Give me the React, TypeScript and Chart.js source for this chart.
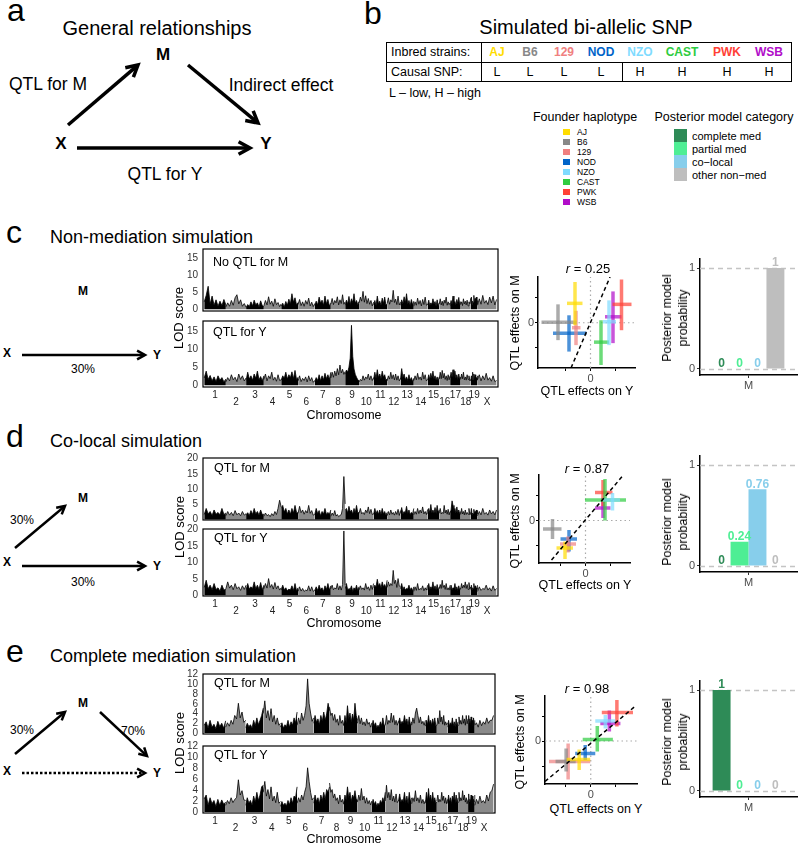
import React, { useEffect, useRef } from 'react';
import { Chart, registerables } from 'chart.js';
Chart.register(...registerables);

const FONT = '"Liberation Sans", Arial, Helvetica, sans-serif';
Chart.defaults.font.family = FONT;

// ---------------- categories ----------------
const strains = ['AJ', 'B6', '129', 'NOD', 'NZO', 'CAST', 'PWK', 'WSB'];
const strainColors = ['#FFDC00', '#888888', '#F08080', '#0064C9', '#7FDBFF', '#2ECC40', '#FF4136', '#B10DC9'];
const causalSNP = ['L', 'L', 'L', 'L', 'H', 'H', 'H', 'H'];
const modelCategories = ['complete med', 'partial med', 'co\u2212local', 'other non\u2212med'];
const modelColors = ['#2E8B57', '#4EEE94', '#87CEEB', '#BEBEBE'];
const chromosomes = ['1', '2', '3', '4', '5', '6', '7', '8', '9', '10', '11', '12', '13', '14', '15', '16', '17', '18', '19', 'X'];
const chrLengthsMb = [195, 182, 160, 156, 152, 150, 145, 129, 125, 131, 122, 120, 120, 125, 104, 98, 95, 91, 61, 171];

// ---------------- LOD scans (one row per chromosome) ----------------
const lodNonMedM = [
  [2.2, 4.1, 6.8, 1.5, 3.9, 1.2, 2.8, 0.9, 2.4, 1.1, 2.9, 1.3],
  [0.7, 1.9, 0.9, 2.6, 1.2, 3.4, 4.3, 1.6, 2.8, 0.9, 1.7, 0.6],
  [0.5, 1.4, 0.8, 2.2, 1.0, 2.7, 1.3, 1.9, 0.7, 2.5, 1.1, 0.8],
  [1.0, 2.6, 1.3, 3.7, 1.5, 2.4, 0.9, 3.1, 1.4, 2.0, 0.8, 1.6],
  [0.9, 1.8, 0.7, 2.3, 1.2, 3.0, 1.6, 4.6, 2.1, 3.4, 1.3, 2.0],
  [1.4, 2.9, 1.1, 2.2, 0.9, 2.6, 1.5, 3.3, 1.0, 2.1, 0.8, 1.7],
  [1.1, 2.4, 1.3, 3.6, 1.8, 2.7, 1.2, 3.9, 1.6, 2.9, 1.0, 1.8],
  [1.6, 3.2, 1.4, 2.6, 1.9, 3.7, 1.3, 2.8, 1.7, 4.3, 1.5, 2.2],
  [1.2, 2.7, 1.6, 3.8, 1.4, 3.1, 2.0, 4.6, 1.8, 2.6, 1.3, 2.3],
  [1.9, 3.6, 2.4, 5.3, 2.1, 4.0, 1.7, 3.2, 1.5, 2.6, 1.0, 2.1],
  [1.3, 2.6, 1.1, 3.9, 1.6, 2.4, 1.2, 3.3, 1.7, 3.6, 1.2, 1.6],
  [1.7, 3.4, 1.5, 2.8, 2.2, 5.6, 2.0, 3.0, 1.4, 3.9, 1.3, 2.1],
  [1.2, 2.8, 1.6, 3.7, 1.9, 4.6, 1.5, 2.6, 1.1, 2.9, 1.3, 2.4],
  [0.9, 2.2, 1.2, 3.3, 1.5, 2.6, 1.0, 2.9, 1.4, 3.6, 1.2, 1.5],
  [1.3, 2.7, 1.1, 1.9, 1.4, 3.1, 1.6, 2.3, 0.9, 2.8, 1.0, 1.9],
  [1.6, 3.1, 1.3, 2.4, 1.1, 2.7, 1.8, 3.6, 1.2, 2.2, 1.4, 1.9],
  [1.0, 2.6, 1.4, 3.9, 1.7, 2.3, 1.2, 2.9, 1.6, 3.5, 1.3, 2.3],
  [1.5, 2.2, 1.1, 3.1, 1.6, 2.4, 1.3, 2.7, 1.0, 2.2, 1.6, 3.3],
  [1.8, 3.6, 1.5, 2.4, 1.9, 4.1, 1.7, 3.2, 1.4, 3.6, 1.5, 2.6],
  [1.2, 3.1, 1.5, 4.1, 1.8, 2.6, 1.4, 3.6, 1.9, 3.9, 1.3, 2.9],
];
const lodNonMedY = [
  [2.0, 3.9, 1.6, 2.7, 1.2, 2.3, 1.0, 2.6, 1.4, 2.1, 0.9, 1.7],
  [0.9, 2.1, 1.2, 2.9, 1.5, 2.2, 1.0, 3.1, 1.6, 2.6, 1.2, 2.0],
  [1.3, 3.6, 1.7, 2.6, 1.4, 3.1, 1.9, 3.9, 1.5, 2.4, 1.2, 2.6],
  [1.6, 3.1, 1.2, 2.6, 1.8, 3.6, 1.4, 2.2, 1.1, 2.9, 1.3, 1.5],
  [1.4, 2.6, 1.9, 3.6, 1.7, 2.9, 2.1, 3.7, 1.8, 4.1, 1.6, 2.2],
  [1.2, 2.6, 1.0, 1.9, 1.3, 2.3, 0.9, 2.6, 1.2, 2.1, 0.8, 1.3],
  [1.0, 2.1, 1.3, 2.9, 1.2, 2.6, 1.5, 3.3, 1.8, 2.9, 1.6, 3.6],
  [2.0, 3.6, 2.2, 3.9, 2.6, 4.6, 2.9, 5.6, 3.4, 4.4, 3.0, 3.8],
  [3.0, 4.2, 3.6, 5.0, 7.5, 16.6, 8.0, 4.5, 3.0, 2.2, 1.5, 1.2],
  [0.9, 1.6, 1.2, 2.6, 1.4, 2.3, 1.8, 3.1, 1.5, 2.6, 1.3, 2.1],
  [1.6, 3.6, 1.9, 4.3, 2.1, 3.1, 1.8, 3.9, 2.2, 2.9, 1.4, 1.8],
  [1.2, 2.6, 1.7, 3.6, 1.8, 2.9, 1.5, 3.1, 1.4, 2.6, 1.2, 1.9],
  [1.6, 4.6, 2.1, 3.1, 1.5, 2.3, 1.3, 2.9, 1.4, 2.1, 1.0, 1.9],
  [1.3, 2.6, 1.5, 3.3, 1.6, 2.3, 1.4, 3.6, 1.7, 2.9, 1.2, 1.6],
  [1.5, 2.9, 1.6, 3.3, 1.9, 3.9, 1.7, 2.6, 1.4, 2.3, 1.2, 2.3],
  [1.7, 3.6, 1.8, 4.1, 2.0, 3.3, 1.6, 2.6, 1.3, 2.9, 1.5, 2.6],
  [2.0, 3.6, 2.2, 4.3, 2.1, 3.9, 1.9, 2.9, 1.6, 3.1, 1.7, 2.3],
  [1.6, 3.1, 1.8, 3.6, 1.5, 2.3, 1.4, 2.9, 1.6, 2.6, 1.2, 1.6],
  [1.2, 2.6, 1.5, 3.6, 1.6, 3.1, 1.5, 2.9, 1.2, 2.1, 1.4, 2.6],
  [1.6, 2.9, 1.2, 2.6, 1.5, 3.3, 1.4, 2.1, 1.1, 2.6, 1.0, 1.3],
];
const lodCoLocalM = [
  [1.6, 3.6, 1.8, 2.6, 1.3, 3.1, 1.7, 2.3, 1.5, 3.6, 1.6, 2.1],
  [1.2, 2.6, 1.4, 2.3, 1.2, 2.9, 1.5, 2.1, 1.2, 2.6, 1.4, 1.9],
  [1.5, 2.2, 1.3, 2.9, 1.6, 3.6, 1.8, 2.6, 1.4, 3.1, 1.6, 1.7],
  [1.0, 2.1, 1.2, 1.6, 0.9, 1.9, 1.2, 2.6, 1.6, 3.6, 6.3, 4.1],
  [3.6, 4.6, 2.4, 3.6, 1.8, 3.1, 1.7, 3.6, 2.1, 4.6, 2.3, 2.1],
  [2.0, 4.3, 2.2, 3.1, 1.7, 2.9, 2.1, 4.6, 2.0, 2.9, 1.4, 1.6],
  [1.6, 3.6, 1.9, 2.9, 1.2, 2.6, 1.8, 3.6, 1.6, 2.3, 1.7, 3.1],
  [1.0, 2.1, 1.3, 2.9, 1.1, 1.6, 0.9, 1.3, 1.6, 3.6, 14.1, 5.1],
  [3.0, 3.6, 2.1, 4.3, 2.4, 3.1, 1.7, 3.6, 2.2, 4.6, 2.1, 2.3],
  [2.0, 3.6, 1.8, 2.3, 1.6, 3.1, 2.2, 4.1, 1.9, 3.3, 1.6, 1.9],
  [1.6, 3.6, 1.9, 2.9, 1.7, 3.1, 1.6, 3.6, 1.8, 2.6, 1.4, 2.3],
  [1.2, 2.6, 1.5, 3.1, 1.7, 2.3, 1.4, 2.6, 1.6, 3.3, 1.3, 2.9],
  [2.0, 3.9, 1.8, 2.6, 2.1, 4.3, 1.9, 3.1, 1.6, 2.3, 1.8, 3.6],
  [1.5, 2.6, 1.7, 3.6, 1.9, 3.1, 2.1, 4.1, 1.8, 2.6, 1.6, 3.3],
  [1.8, 3.6, 2.2, 4.9, 2.1, 3.1, 2.0, 3.9, 1.9, 4.6, 2.2, 3.1],
  [2.0, 3.6, 1.8, 2.3, 1.9, 4.6, 2.1, 3.1, 1.7, 3.3, 1.5, 2.6],
  [2.2, 3.1, 6.1, 4.6, 2.4, 3.6, 2.0, 4.1, 2.1, 3.1, 1.8, 2.6],
  [1.6, 3.6, 1.8, 2.6, 1.5, 3.1, 1.6, 2.3, 1.7, 3.6, 1.5, 2.3],
  [2.0, 3.6, 1.7, 2.1, 1.8, 3.3, 1.9, 2.6, 1.5, 3.1, 1.7, 2.9],
  [1.2, 2.6, 1.5, 3.6, 1.7, 2.3, 1.4, 3.1, 1.8, 2.6, 1.5, 3.1],
];
const lodCoLocalY = [
  [2.4, 4.6, 2.0, 3.1, 1.7, 3.6, 1.8, 2.3, 1.3, 3.1, 1.6, 1.9],
  [2.0, 4.1, 2.2, 3.1, 1.7, 3.6, 2.0, 2.6, 1.5, 2.9, 1.8, 3.1],
  [1.6, 3.6, 1.9, 2.6, 2.1, 4.1, 2.0, 3.1, 1.8, 3.9, 1.7, 3.1],
  [2.0, 3.6, 2.2, 5.1, 2.4, 3.3, 1.9, 3.9, 2.0, 2.9, 1.6, 2.3],
  [1.6, 3.1, 1.7, 2.3, 1.4, 1.9, 1.6, 2.9, 1.5, 3.6, 1.4, 2.3],
  [1.2, 2.6, 1.3, 2.1, 1.2, 1.6, 1.4, 2.9, 1.3, 2.6, 1.2, 1.6],
  [1.4, 2.6, 1.5, 3.1, 1.7, 2.3, 1.2, 2.9, 1.8, 3.6, 1.6, 2.9],
  [2.0, 3.1, 1.7, 2.3, 1.9, 3.6, 1.7, 2.9, 1.6, 3.3, 19.6, 3.1],
  [2.0, 3.6, 1.6, 2.1, 1.8, 2.9, 1.2, 2.3, 1.7, 3.1, 1.5, 2.6],
  [1.6, 2.9, 1.8, 2.3, 1.6, 3.6, 1.9, 2.6, 1.5, 3.1, 1.8, 3.6],
  [2.4, 3.1, 2.6, 4.9, 2.8, 3.6, 2.2, 4.1, 2.6, 3.3, 2.2, 4.6],
  [2.4, 4.1, 2.8, 3.6, 3.0, 7.6, 3.6, 4.6, 2.4, 5.1, 2.8, 2.6],
  [2.0, 3.6, 1.8, 2.6, 1.6, 2.1, 1.9, 3.1, 1.7, 2.3, 1.4, 2.6],
  [1.2, 2.6, 1.5, 3.6, 1.6, 2.1, 1.8, 2.9, 1.4, 2.3, 1.6, 3.1],
  [1.6, 3.6, 1.8, 2.6, 2.1, 4.1, 1.9, 2.9, 1.6, 3.3, 1.5, 2.6],
  [2.0, 3.3, 2.1, 4.6, 2.4, 3.1, 1.8, 3.6, 1.7, 2.3, 1.6, 3.1],
  [1.6, 3.1, 1.7, 2.3, 1.9, 3.6, 1.6, 2.6, 1.4, 2.9, 1.6, 2.3],
  [2.0, 3.6, 2.2, 3.1, 2.4, 4.1, 2.1, 3.3, 1.8, 3.9, 1.9, 2.6],
  [1.6, 3.1, 1.8, 2.3, 2.0, 3.6, 1.7, 2.9, 1.6, 2.3, 1.8, 3.1],
  [1.2, 2.6, 1.5, 2.1, 1.8, 3.1, 1.6, 2.3, 1.3, 2.9, 1.5, 2.1],
];
const lodCompleteM = [
  [1.6, 2.3, 1.0, 2.6, 1.2, 1.8, 0.9, 2.4, 1.3, 2.0, 1.0, 2.5],
  [1.2, 2.1, 1.4, 2.6, 1.8, 3.6, 2.9, 6.1, 3.1, 4.3, 2.2, 2.6],
  [1.1, 2.0, 1.3, 1.7, 1.0, 2.6, 1.5, 3.1, 1.7, 2.6, 3.6, 5.1],
  [4.0, 6.6, 3.1, 4.6, 2.6, 5.0, 2.3, 3.6, 1.8, 3.1, 1.6, 2.0],
  [1.2, 2.1, 1.0, 1.7, 1.3, 2.6, 1.2, 2.3, 1.6, 3.1, 2.1, 4.3],
  [1.6, 3.1, 1.9, 4.1, 2.6, 3.6, 5.6, 11.1, 6.1, 4.1, 2.4, 3.1],
  [2.0, 3.6, 2.2, 2.9, 1.7, 3.6, 2.4, 4.3, 2.6, 3.9, 6.1, 4.6],
  [5.3, 3.6, 4.1, 2.6, 3.8, 2.2, 2.9, 1.6, 3.6, 2.0, 2.6, 1.5],
  [1.6, 3.6, 2.1, 5.6, 2.9, 4.1, 2.2, 3.9, 2.6, 6.1, 3.6, 2.6],
  [2.0, 3.6, 1.9, 3.1, 1.7, 2.3, 1.5, 2.9, 1.8, 2.2, 1.2, 2.1],
  [1.2, 2.6, 1.5, 2.1, 1.1, 1.6, 1.3, 2.3, 1.5, 3.1, 1.6, 1.6],
  [1.6, 3.6, 1.8, 2.6, 2.1, 4.1, 2.2, 3.6, 1.7, 2.6, 1.6, 2.5],
  [2.0, 3.1, 1.8, 2.4, 2.0, 3.6, 2.1, 2.9, 1.6, 3.3, 1.5, 2.3],
  [1.6, 3.1, 2.0, 4.1, 5.1, 3.6, 2.1, 3.3, 1.9, 2.4, 1.6, 2.6],
  [1.4, 2.6, 1.7, 3.6, 1.9, 2.6, 1.6, 2.9, 1.8, 3.1, 1.5, 1.6],
  [1.6, 3.1, 1.9, 4.6, 2.3, 3.3, 1.8, 3.6, 1.6, 2.3, 1.7, 2.1],
  [1.2, 2.6, 1.4, 2.1, 1.6, 3.1, 1.5, 2.3, 1.2, 2.9, 1.4, 2.3],
  [1.6, 3.3, 1.9, 2.6, 1.8, 3.6, 2.0, 2.9, 1.6, 3.6, 1.9, 2.9],
  [2.0, 3.6, 2.2, 2.9, 1.7, 3.3, 2.0, 2.6, 1.5, 3.1, 1.8, 2.6],
  [1.6, 2.1, 1.2, 2.6, 1.5, 2.3, 1.8, 3.1, 2.0, 2.6, 2.6, 3.6],
];
const lodCompleteY = [
  [2.4, 3.1, 1.2, 2.6, 1.5, 2.1, 1.0, 2.3, 1.2, 2.2, 1.4, 1.8],
  [1.2, 2.1, 1.5, 2.6, 1.7, 2.3, 2.6, 5.9, 3.1, 3.9, 2.2, 2.1],
  [1.2, 2.6, 1.6, 2.1, 1.2, 2.9, 1.8, 3.6, 2.1, 3.1, 4.6, 4.9],
  [3.6, 5.6, 2.9, 4.1, 2.4, 4.6, 2.0, 2.9, 1.7, 3.6, 1.6, 1.9],
  [1.0, 1.9, 1.2, 1.6, 1.1, 2.1, 1.3, 2.6, 1.6, 2.9, 2.6, 4.6],
  [1.6, 2.6, 1.8, 3.1, 2.2, 3.6, 4.6, 8.1, 5.6, 3.6, 2.2, 2.6],
  [1.6, 3.1, 1.9, 2.6, 1.5, 3.1, 2.1, 3.6, 2.3, 4.1, 3.6, 4.6],
  [5.3, 3.6, 4.1, 2.6, 3.3, 2.1, 2.6, 1.5, 3.1, 1.8, 2.3, 1.4],
  [1.6, 3.1, 2.2, 4.6, 2.6, 3.6, 1.9, 3.1, 2.6, 3.9, 2.4, 2.1],
  [1.8, 3.1, 2.1, 4.3, 2.2, 2.9, 1.6, 2.6, 1.5, 2.1, 1.3, 2.0],
  [1.2, 2.3, 1.4, 1.9, 1.0, 1.6, 1.2, 2.1, 1.6, 2.6, 1.8, 3.6],
  [2.0, 4.9, 2.6, 3.6, 2.2, 4.1, 2.0, 2.9, 1.8, 3.3, 1.7, 2.1],
  [2.0, 3.3, 1.8, 2.3, 1.9, 3.6, 1.7, 2.9, 1.5, 3.6, 1.8, 2.6],
  [1.5, 2.6, 1.9, 3.9, 2.0, 2.6, 1.7, 3.1, 1.6, 2.3, 1.5, 2.1],
  [1.6, 3.6, 2.0, 4.3, 2.2, 3.1, 1.8, 3.6, 1.9, 2.6, 1.6, 1.9],
  [2.0, 3.1, 1.8, 2.3, 1.9, 3.6, 2.1, 2.9, 1.6, 2.6, 1.5, 2.3],
  [1.6, 3.1, 1.8, 2.6, 1.5, 2.9, 2.2, 3.6, 1.7, 3.1, 1.6, 2.6],
  [1.8, 3.6, 2.0, 2.6, 2.1, 3.9, 2.2, 3.1, 1.8, 2.6, 1.5, 2.3],
  [2.0, 3.3, 1.8, 2.3, 1.9, 3.1, 1.7, 2.9, 1.5, 2.3, 1.9, 3.1],
  [1.2, 2.3, 1.5, 2.9, 1.7, 2.1, 1.6, 3.1, 2.0, 3.6, 3.9, 5.1],
];
const lodTicks15 = [0, 5, 10, 15];
const lodTicks20 = [0, 5, 10, 15, 20];
const lodTicks12 = [0, 2, 4, 6, 8, 10, 12];

// ---------------- QTL effects (strain order as `strains`) ----------------
const nonMedEffY = [-0.31, -0.65, -0.29, -0.43, 0.37, 0.21, 0.62, 0.45];
const nonMedEffM = [0.39, 0.01, -0.1, -0.21, 0.02, -0.39, 0.37, 0.12];
const nonMedErrY = [[-0.47, -0.16], [-0.98, -0.28], [-0.37, -0.2], [-0.75, -0.08], [0.25, 0.51], [0.07, 0.37], [0.44, 0.82], [0.29, 0.62]];
const nonMedErrM = [[-0.05, 0.82], [-0.35, 0.37], [-0.45, 0.24], [-0.58, 0.15], [-0.45, 0.45], [-0.85, 0.05], [-0.15, 0.87], [-0.41, 0.63]];
const nonMedFitX = [-0.39, 0.39];
const nonMedFitY = [-0.91, 0.92];

const coLocalEffY = [-0.41, -0.66, -0.35, -0.33, 0.54, 0.39, 0.35, 0.35];
const coLocalEffM = [-0.55, -0.17, -0.47, -0.37, 0.41, 0.41, 0.56, 0.25];
const coLocalErrY = [[-0.58, -0.25], [-0.85, -0.48], [-0.51, -0.19], [-0.5, -0.17], [0.35, 0.69], [-0.01, 0.81], [0.19, 0.54], [0.19, 0.5]];
const coLocalErrM = [[-0.77, -0.42], [-0.37, 0.03], [-0.64, -0.32], [-0.62, -0.19], [0.2, 0.55], [0, 0.83], [0.29, 0.81], [0.05, 0.45]];
const coLocalFitX = [-0.68, 0.75];
const coLocalFitY = [-0.79, 0.9];

const completeEffY = [-0.23, -0.49, -0.45, -0.11, 0.29, 0.13, 0.52, 0.37];
const completeEffM = [-0.37, -0.41, -0.41, -0.25, 0.4, 0.03, 0.57, 0.35];
const completeErrY = [[-0.48, -0.01], [-0.7, -0.3], [-0.83, -0.01], [-0.31, 0.09], [0.09, 0.49], [-0.16, 0.44], [0.22, 0.84], [0.19, 0.59]];
const completeErrM = [[-0.58, -0.17], [-0.61, -0.15], [-0.77, -0.05], [-0.38, -0.08], [0.25, 0.52], [-0.21, 0.3], [0.29, 0.82], [0.19, 0.61]];
const completeFitX = [-0.91, 0.89];
const completeFitY = [-0.81, 0.7];
const effectTicks = [-0.5, 0, 0.5];

// ---------------- posterior model probabilities ----------------
const postNonMed = [0, 0, 0, 1];
const postCoLocal = [0, 0.24, 0.76, 0];
const postComplete = [1, 0, 0, 0];
const probTicks = [0, 1];
const probRefLines = [0, 1];

// ---------------- derived ----------------
const chrStarts: number[] = [];
chrLengthsMb.reduce((acc, l) => { chrStarts.push(acc); return acc + l; }, 0);
const chrCenters = chrLengthsMb.map((l, i) => chrStarts[i] + l / 2);
const X_RANGE = [-11, 2645];

const framePlugin = {
  id: 'frame',
  afterDatasetsDraw(chart: any) {
    const { ctx, chartArea: a } = chart;
    ctx.save();
    ctx.strokeStyle = '#000';
    ctx.lineWidth = 1.2;
    ctx.strokeRect(a.left, a.top, a.right - a.left, a.bottom - a.top);
    ctx.restore();
  },
};

const refLinePlugin = {
  id: 'refLines',
  beforeDatasetsDraw(chart: any) {
    const { ctx, chartArea: a, scales } = chart;
    ctx.save();
    ctx.strokeStyle = '#c4c4c4';
    ctx.lineWidth = 1.3;
    ctx.setLineDash([5, 4]);
    probRefLines.forEach((v) => {
      const py = Math.round(scales.y.getPixelForValue(v)) + 0.5;
      ctx.beginPath();
      ctx.moveTo(a.left, py);
      ctx.lineTo(a.right, py);
      ctx.stroke();
    });
    ctx.restore();
  },
};

const valueLabelPlugin = {
  id: 'valueLabels',
  afterDatasetsDraw(chart: any) {
    const { ctx } = chart;
    ctx.save();
    ctx.font = `bold 12px ${FONT}`;
    ctx.textAlign = 'center';
    ctx.textBaseline = 'bottom';
    chart.data.datasets.forEach((ds: any, i: number) => {
      const meta = chart.getDatasetMeta(i);
      meta.data.forEach((el: any, j: number) => {
        ctx.fillStyle = modelColors[i];
        ctx.fillText(String(ds.data[j]), el.x, el.y + 1);
      });
    });
    ctx.restore();
  },
};

function lodDatasets(values: number[][]) {
  return values.map((vals, ci) => ({
    data: vals.map((v, i) => ({ x: chrStarts[ci] + (chrLengthsMb[ci] * i) / (vals.length - 1), y: v })),
    borderColor: '#000',
    borderWidth: 0.8,
    backgroundColor: ci % 2 === 0 ? '#000' : '#8a8a8a',
    fill: 'origin',
    pointRadius: 0,
    tension: 0,
  }));
}

function lodConfig(values: number[][], yr: number[], yTicks: number[], showX: boolean) {
  const x: any = {
    type: 'linear',
    min: X_RANGE[0],
    max: X_RANGE[1],
    display: showX,
    grid: { display: false, drawTicks: false },
    border: { display: false },
    afterBuildTicks: (ax: any) => { ax.ticks = chrCenters.map((v) => ({ value: v })); },
    ticks: {
      autoSkip: false,
      maxRotation: 0,
      padding: 5,
      color: '#222',
      font: { size: 10, lineHeight: 0.7 },
      callback: (_v: any, i: number) => (i % 2 === 0 ? chromosomes[i] : ['', chromosomes[i]]),
    },
  };
  if (showX) x.afterFit = (ax: any) => { ax.height = 22; };
  return {
    type: 'line',
    data: { datasets: lodDatasets(values) },
    options: {
      animation: false,
      responsive: false,
      events: [],
      layout: { padding: { top: 12, bottom: showX ? 0 : 7, left: 0, right: 3 } },
      plugins: { legend: { display: false }, tooltip: { enabled: false } },
      scales: {
        x,
        y: {
          min: yr[0],
          max: yr[1],
          grid: { display: false, drawTicks: false },
          border: { display: false },
          afterBuildTicks: (ax: any) => { ax.ticks = yTicks.map((v) => ({ value: v })); },
          afterFit: (ax: any) => { ax.width = 26; },
          ticks: { autoSkip: false, padding: 5, color: '#333', font: { size: 10 } },
        },
      },
    },
    plugins: [framePlugin],
  };
}

function scatterConfig(effY: number[], effM: number[], errY: number[][], errM: number[][], fitX: number[], fitY: number[], xr: number[], yr: number[]) {
  const datasets: any[] = [];
  datasets.push({
    data: fitX.map((x, i) => ({ x, y: fitY[i] })),
    borderColor: '#000', borderDash: [4, 3], borderWidth: 1.5, showLine: true, pointRadius: 0, order: 0,
  });
  strains.forEach((_s, i) => {
    const c = strainColors[i] + 'B3';
    datasets.push({
      data: [{ x: errY[i][0], y: effM[i] }, { x: errY[i][1], y: effM[i] }],
      borderColor: c, borderWidth: 3.5, showLine: true, pointRadius: 0, order: 1,
    });
    datasets.push({
      data: [{ x: effY[i], y: errM[i][0] }, { x: effY[i], y: errM[i][1] }],
      borderColor: c, borderWidth: 3.5, showLine: true, pointRadius: 0, order: 1,
    });
  });
  datasets.push({
    data: [{ x: 0, y: yr[0] }, { x: 0, y: yr[1] }],
    borderColor: '#aaaaaa', borderDash: [1.5, 3], borderWidth: 1.2, showLine: true, pointRadius: 0, order: 3,
  });
  datasets.push({
    data: [{ x: xr[0], y: 0 }, { x: xr[1], y: 0 }],
    borderColor: '#aaaaaa', borderDash: [1.5, 3], borderWidth: 1.2, showLine: true, pointRadius: 0, order: 3,
  });
  const axis = (range: number[], isX: boolean) => ({
    type: 'linear',
    min: range[0],
    max: range[1],
    afterBuildTicks: (ax: any) => { ax.ticks = effectTicks.map((v) => ({ value: v })); },
    afterFit: (ax: any) => { if (isX) ax.height = 16; else ax.width = 18; },
    ticks: { autoSkip: false, callback: (v: any) => (v === 0 ? '0' : ''), color: '#4d4d4d', font: { size: 11 }, padding: 1 },
    grid: { display: true, drawOnChartArea: false, drawTicks: true, tickLength: 3, color: '#000' },
    border: { display: true, color: '#000', width: 1.5 },
  });
  return {
    type: 'scatter',
    data: { datasets },
    options: {
      animation: false,
      responsive: false,
      events: [],
      layout: { padding: { top: 8, right: 4, left: 0, bottom: 0 } },
      plugins: { legend: { display: false }, tooltip: { enabled: false } },
      scales: { x: axis(xr, true), y: axis(yr, false) },
    },
  };
}

function barConfig(values: number[]) {
  return {
    type: 'bar',
    data: {
      labels: ['M'],
      datasets: modelCategories.map((c, i) => ({
        label: c,
        data: [values[i]],
        backgroundColor: modelColors[i],
        borderWidth: 0,
        categoryPercentage: 0.74,
        barPercentage: 1,
      })),
    },
    options: {
      animation: false,
      responsive: false,
      events: [],
      layout: { padding: { top: 9, right: 2, left: 0, bottom: 0 } },
      plugins: { legend: { display: false }, tooltip: { enabled: false } },
      scales: {
        x: {
          grid: { display: true, drawOnChartArea: false, drawTicks: true, tickLength: 3, color: '#333', offset: false },
          border: { display: true, color: '#000', width: 1.5 },
          ticks: { color: '#4d4d4d', font: { size: 11 }, padding: 1 },
          afterFit: (ax: any) => { ax.height = 16; },
        },
        y: {
          min: -0.06,
          max: 1.09,
          afterBuildTicks: (ax: any) => { ax.ticks = probTicks.map((v) => ({ value: v })); },
          grid: { display: true, drawOnChartArea: false, drawTicks: true, tickLength: 3, color: '#333' },
          border: { display: true, color: '#000', width: 1.5 },
          ticks: { autoSkip: false, color: '#4d4d4d', font: { size: 11 }, padding: 2 },
          afterFit: (ax: any) => { ax.width = 14; },
        },
      },
    },
    plugins: [refLinePlugin, valueLabelPlugin],
  };
}

function ChartCanvas({ left, top, width, height, make }: { left: number; top: number; width: number; height: number; make: () => any }) {
  const ref = useRef<HTMLCanvasElement>(null);
  useEffect(() => {
    const chart = new Chart(ref.current as HTMLCanvasElement, make());
    return () => chart.destroy();
  }, []);
  return <canvas ref={ref} width={width} height={height} style={{ position: 'absolute', left, top, width, height }} />;
}

function Txt({ x, y, children, size = 12, bold = false, color = '#000', anchor = 'middle', rotate = 0, italic = false }: any) {
  const tx = anchor === 'middle' ? '-50%' : anchor === 'end' ? '-100%' : '0';
  return (
    <div
      style={{
        position: 'absolute', left: x, top: y,
        transform: `translate(${tx},-50%)${rotate ? ` rotate(${rotate}deg)` : ''}`,
        transformOrigin: anchor === 'middle' ? '50% 50%' : '0 50%',
        fontSize: size, fontWeight: bold ? 'bold' : 'normal', fontStyle: italic ? 'italic' : 'normal',
        color, whiteSpace: 'nowrap', lineHeight: 1, fontFamily: FONT,
      }}
    >
      {children}
    </div>
  );
}

function Arrow({ x1, y1, x2, y2, w = 2.5, head = 9, dash }: any) {
  const ang = Math.atan2(y2 - y1, x2 - x1);
  const spread = 0.5;
  const hx1 = x2 - head * Math.cos(ang - spread);
  const hy1 = y2 - head * Math.sin(ang - spread);
  const hx2 = x2 - head * Math.cos(ang + spread);
  const hy2 = y2 - head * Math.sin(ang + spread);
  const ex = x2 - (w * 0.8) * Math.cos(ang);
  const ey = y2 - (w * 0.8) * Math.sin(ang);
  return (
    <g>
      <line x1={x1} y1={y1} x2={ex} y2={ey} stroke="#000" strokeWidth={w} strokeDasharray={dash} />
      <polyline points={`${hx1},${hy1} ${x2},${y2} ${hx2},${hy2}`} fill="none" stroke="#000" strokeWidth={w} strokeLinejoin="miter" strokeMiterlimit={10} />
    </g>
  );
}

function LodPanel({ values, left, right, top, bottom, yr, yTicks, showX }: any) {
  const cl = left - 26;
  const ct = top - 12;
  return (
    <ChartCanvas
      left={cl}
      top={ct}
      width={right - cl + 3}
      height={12 + (bottom - top) + (showX ? 22 : 7)}
      make={() => lodConfig(values, yr, yTicks, showX)}
    />
  );
}

function ScatterPanel({ area, d }: any) {
  const cl = area.left - 18;
  const ct = area.top - 8;
  return (
    <ChartCanvas
      left={cl}
      top={ct}
      width={area.right - cl + 4}
      height={8 + (area.bottom - area.top) + 16}
      make={() => scatterConfig(d[0], d[1], d[2], d[3], d[4], d[5], d[6], d[7])}
    />
  );
}

function BarPanel({ top, bottom, values }: any) {
  const cl = 700 - 14;
  return (
    <ChartCanvas left={cl} top={top - 9} width={797 - cl + 2} height={9 + (bottom - top) + 16} make={() => barConfig(values)} />
  );
}

function PostLabel({ y }: { y: number }) {
  return (
    <div style={{ position: 'absolute', left: 675, top: y, transform: 'translate(-50%,-50%) rotate(-90deg)', fontSize: 12.5, lineHeight: '16px', textAlign: 'center', whiteSpace: 'nowrap', fontFamily: FONT }}>
      Posterior model<br />probability
    </div>
  );
}

const tableCols = [497, 530, 564, 601, 640, 682, 727, 769];

export default function App() {
  useEffect(() => { document.body.style.margin = '0'; }, []);
  const line = (l: number, t: number, w: number, h: number) => (
    <div style={{ position: 'absolute', left: l, top: t, width: w, height: h, background: '#000' }} />
  );
  return (
    <div style={{ position: 'absolute', left: 0, top: 0, width: 800, height: 846, overflow: 'hidden', background: '#fff', fontFamily: FONT }}>
      <svg width={800} height={846} style={{ position: 'absolute', left: 0, top: 0 }}>
        {/* panel a */}
        <Arrow x1={68} y1={125} x2={138} y2={65} w={3.5} head={13} />
        <Arrow x1={188} y1={65} x2={258} y2={123} w={3.5} head={13} />
        <Arrow x1={77} y1={148} x2={250} y2={148} w={3.5} head={13} />
        {/* panel c */}
        <Arrow x1={22} y1={355} x2={145} y2={355} w={2.5} head={9} />
        {/* panel d */}
        <Arrow x1={15} y1={548} x2={65} y2={506} w={2.5} head={9} />
        <Arrow x1={22} y1={566} x2={145} y2={566} w={2.5} head={9} />
        {/* panel e */}
        <Arrow x1={15} y1={754} x2={65} y2={712} w={2.5} head={9} />
        <Arrow x1={100} y1={712} x2={147} y2={756} w={2.5} head={9} />
        <Arrow x1={22} y1={773} x2={145} y2={773} w={2.5} head={9} dash="2.5 2" />
      </svg>

      {/* ---------- panel a ---------- */}
      <Txt x={7} y={10} size={32} anchor="start">a</Txt>
      <Txt x={157} y={28} size={20}>General relationships</Txt>
      <Txt x={163} y={54} size={17} bold>M</Txt>
      <Txt x={61} y={143} size={17} bold>X</Txt>
      <Txt x={266} y={143} size={17} bold>Y</Txt>
      <Txt x={48} y={85} size={17.5}>QTL for M</Txt>
      <Txt x={281} y={86} size={17.5}>Indirect effect</Txt>
      <Txt x={165} y={175} size={17.5}>QTL for Y</Txt>

      {/* ---------- panel b ---------- */}
      <Txt x={364} y={13} size={32} anchor="start">b</Txt>
      <Txt x={586} y={27} size={20}>Simulated bi-allelic SNP</Txt>
      <div style={{ position: 'absolute', left: 386, top: 42, width: 406, height: 40, border: '1.5px solid #000', boxSizing: 'border-box' }} />
      {line(386, 61.5, 406, 1.2)}
      {line(480.5, 42, 1.2, 40)}
      {line(621.5, 62, 1.2, 20)}
      <Txt x={391} y={52} size={12.5} anchor="start">Inbred strains:</Txt>
      <Txt x={391} y={72} size={12.5} anchor="start">Causal SNP:</Txt>
      {strains.map((s, i) => (
        <Txt key={s} x={tableCols[i]} y={52} size={12} bold color={strainColors[i]}>{s}</Txt>
      ))}
      {causalSNP.map((s, i) => (
        <Txt key={i} x={tableCols[i]} y={72} size={12.5}>{s}</Txt>
      ))}
      <Txt x={389} y={93} size={12.5} anchor="start">L – low, H – high</Txt>

      <Txt x={585} y={117} size={12.5}>Founder haplotype</Txt>
      {strains.map((s, i) => (
        <React.Fragment key={s}>
          <div style={{ position: 'absolute', left: 563, top: 129 + i * 10, width: 7, height: 6, background: strainColors[i] }} />
          <Txt x={577} y={132 + i * 10} size={8.5} anchor="start">{s}</Txt>
        </React.Fragment>
      ))}
      <Txt x={724} y={117} size={12.5}>Posterior model category</Txt>
      {modelCategories.map((m, i) => (
        <React.Fragment key={m}>
          <div style={{ position: 'absolute', left: 674, top: 129 + i * 13, width: 13, height: 13, background: modelColors[i] }} />
          <Txt x={692} y={135.5 + i * 13} size={11} anchor="start">{m}</Txt>
        </React.Fragment>
      ))}

      {/* ---------- panel c ---------- */}
      <Txt x={6} y={232} size={32} anchor="start">c</Txt>
      <Txt x={50} y={237} size={18} anchor="start">Non-mediation simulation</Txt>
      <Txt x={83} y={291} size={12} bold>M</Txt>
      <Txt x={7} y={353} size={12} bold>X</Txt>
      <Txt x={157} y={355} size={12} bold>Y</Txt>
      <Txt x={83} y={369} size={12}>30%</Txt>

      <LodPanel values={lodNonMedM} left={203} right={498} top={249} bottom={315} yr={[-0.5, 17.8]} yTicks={lodTicks15} showX={false} />
      <LodPanel values={lodNonMedY} left={203} right={498} top={321} bottom={387} yr={[-0.5, 17.8]} yTicks={lodTicks15} showX />
      <Txt x={213} y={262} size={12.5} anchor="start">No QTL for M</Txt>
      <Txt x={213} y={332} size={12.5} anchor="start">QTL for Y</Txt>
      <Txt x={178} y={318} size={13} rotate={-90}>LOD score</Txt>
      <Txt x={344} y={415} size={12.5}>Chromosome</Txt>

      <ScatterPanel area={{ left: 538, right: 635, top: 277, bottom: 368 }} d={[nonMedEffY, nonMedEffM, nonMedErrY, nonMedErrM, nonMedFitX, nonMedFitY, [-1.05, 0.89], [-0.91, 0.92]]} />
      <Txt x={588} y={268} size={13}><i>r</i> = 0.25</Txt>
      <Txt x={587} y={391} size={12.5}>QTL effects on Y</Txt>
      <Txt x={515} y={323} size={12.5} rotate={-90}>QTL effects on M</Txt>

      <BarPanel top={259} bottom={375} values={postNonMed} />
      <PostLabel y={318} />

      {/* ---------- panel d ---------- */}
      <Txt x={6} y={436} size={32} anchor="start">d</Txt>
      <Txt x={50} y={441} size={18} anchor="start">Co-local simulation</Txt>
      <Txt x={83} y={498} size={12} bold>M</Txt>
      <Txt x={22} y={520} size={12}>30%</Txt>
      <Txt x={7} y={562} size={12} bold>X</Txt>
      <Txt x={157} y={566} size={12} bold>Y</Txt>
      <Txt x={83} y={582} size={12}>30%</Txt>

      <LodPanel values={lodCoLocalM} left={203} right={498} top={458} bottom={524} yr={[-0.2, 20.2]} yTicks={lodTicks20} showX={false} />
      <LodPanel values={lodCoLocalY} left={203} right={498} top={529} bottom={596} yr={[-0.2, 20.2]} yTicks={lodTicks20} showX />
      <Txt x={214} y={468} size={12.5} anchor="start">QTL for M</Txt>
      <Txt x={214} y={538} size={12.5} anchor="start">QTL for Y</Txt>
      <Txt x={179} y={527} size={13} rotate={-90}>LOD score</Txt>
      <Txt x={344} y={623} size={12.5}>Chromosome</Txt>

      <ScatterPanel area={{ left: 539, right: 630, top: 475, bottom: 563 }} d={[coLocalEffY, coLocalEffM, coLocalErrY, coLocalErrM, coLocalFitX, coLocalFitY, [-0.93, 0.89], [-0.85, 0.91]]} />
      <Txt x={587} y={468} size={13}><i>r</i> = 0.87</Txt>
      <Txt x={585} y={585} size={12.5}>QTL effects on Y</Txt>
      <Txt x={515} y={521} size={12.5} rotate={-90}>QTL effects on M</Txt>

      <BarPanel top={456} bottom={572} values={postCoLocal} />
      <PostLabel y={522} />

      {/* ---------- panel e ---------- */}
      <Txt x={6} y={651} size={32} anchor="start">e</Txt>
      <Txt x={50} y={656} size={18} anchor="start">Complete mediation simulation</Txt>
      <Txt x={83} y={703} size={12} bold>M</Txt>
      <Txt x={22} y={730} size={12}>30%</Txt>
      <Txt x={133} y={731} size={12}>70%</Txt>
      <Txt x={7} y={771} size={12} bold>X</Txt>
      <Txt x={157} y={773} size={12} bold>Y</Txt>

      <LodPanel values={lodCompleteM} left={203} right={495} top={674} bottom={738} yr={[-0.2, 12.1]} yTicks={lodTicks12} showX={false} />
      <LodPanel values={lodCompleteY} left={203} right={495} top={746} bottom={813} yr={[-0.2, 12.1]} yTicks={lodTicks12} showX />
      <Txt x={214} y={683} size={12.5} anchor="start">QTL for M</Txt>
      <Txt x={214} y={755} size={12.5} anchor="start">QTL for Y</Txt>
      <Txt x={179} y={743} size={13} rotate={-90}>LOD score</Txt>
      <Txt x={344} y={839} size={12.5}>Chromosome</Txt>

      <ScatterPanel area={{ left: 545, right: 637, top: 696, bottom: 784 }} d={[completeEffY, completeEffM, completeErrY, completeErrM, completeFitX, completeFitY, [-0.91, 0.92], [-0.86, 0.9]]} />
      <Txt x={587} y={688} size={13}><i>r</i> = 0.98</Txt>
      <Txt x={596} y={809} size={12.5}>QTL effects on Y</Txt>
      <Txt x={520} y={742} size={12.5} rotate={-90}>QTL effects on M</Txt>

      <BarPanel top={681} bottom={797} values={postComplete} />
      <PostLabel y={742} />
    </div>
  );
}
